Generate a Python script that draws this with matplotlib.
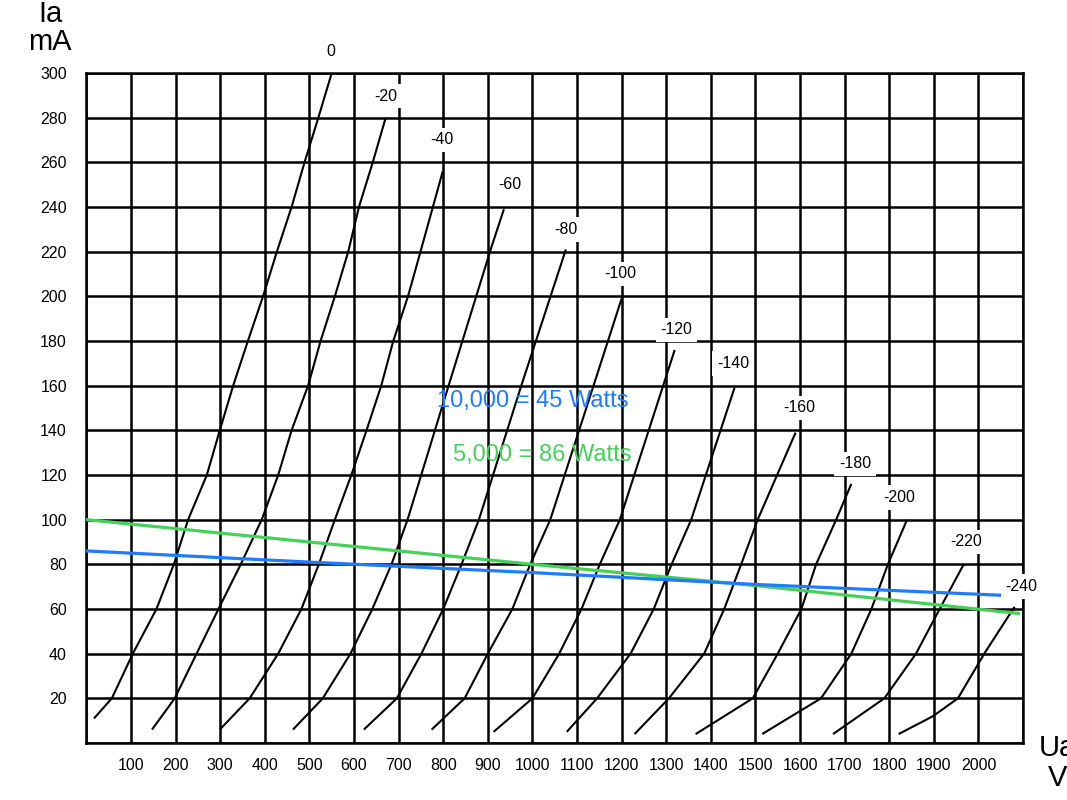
import numpy as np
import matplotlib
matplotlib.use("Agg")
import matplotlib.pyplot as plt

plt.rcParams['font.family'] = ['Liberation Sans', 'DejaVu Sans']

# grid-voltage curves: anode volts vs anode mA
curve_labels = ['0', '-20', '-40', '-60', '-80', '-100', '-120', '-140',
                '-160', '-180', '-200', '-220', '-240']

c0_v = [17, 57, 104, 157, 196, 228, 270, 299, 329, 362, 396, 427, 460, 489, 520, 550]
c0_i = [11, 20, 40, 60, 80, 100, 120, 140, 160, 180, 200, 220, 240, 260, 280, 300]
c20_v = [147, 198, 247, 296, 346, 393, 430, 460, 497, 525, 557, 587, 611, 642, 671]
c20_i = [6, 20, 40, 60, 80, 100, 120, 140, 160, 180, 200, 220, 240, 260, 280]
c40_v = [299, 366, 430, 482, 521, 557, 594, 628, 661, 688, 721, 749, 799]
c40_i = [6, 20, 40, 60, 80, 100, 120, 140, 160, 180, 200, 220, 256]
c60_v = [463, 530, 592, 641, 684, 720, 812, 908, 936]
c60_i = [6, 20, 40, 60, 80, 100, 160, 222, 239]
c80_v = [622, 696, 751, 800, 841, 880, 975, 1075]
c80_i = [6, 20, 40, 60, 80, 100, 160, 221]
c100_v = [774, 848, 900, 955, 995, 1040, 1200]
c100_i = [6, 20, 40, 60, 80, 100, 199]
c120_v = [913, 1000, 1060, 1110, 1151, 1196, 1319]
c120_i = [5, 20, 40, 60, 80, 100, 176]
c140_v = [1077, 1145, 1220, 1272, 1312, 1356, 1453]
c140_i = [5, 20, 40, 60, 80, 100, 159]
c160_v = [1229, 1306, 1385, 1430, 1468, 1505, 1590]
c160_i = [4, 20, 40, 60, 80, 100, 139]
c180_v = [1366, 1494, 1550, 1603, 1636, 1681, 1715]
c180_i = [4, 20, 40, 60, 80, 100, 116]
c200_v = [1515, 1647, 1715, 1760, 1797, 1840]
c200_i = [4, 20, 40, 60, 80, 100]
c220_v = [1674, 1789, 1860, 1913, 1967]
c220_i = [4, 20, 40, 60, 80]
c240_v = [1821, 1898, 1954, 2013, 2081]
c240_i = [4, 12, 20, 40, 61]

curves_v = [c0_v, c20_v, c40_v, c60_v, c80_v, c100_v, c120_v, c140_v,
            c160_v, c180_v, c200_v, c220_v, c240_v]
curves_i = [c0_i, c20_i, c40_i, c60_i, c80_i, c100_i, c120_i, c140_i,
            c160_i, c180_i, c200_i, c220_i, c240_i]

# label anchor points (V, mA)
label_v = [548, 671, 797, 949, 1075, 1198, 1323, 1450, 1598, 1724, 1823, 1973, 2097]
label_i = [309.5, 289.7, 270, 250, 230, 210, 185, 170, 150, 125, 110, 90, 70]

# load lines
green_v = [0, 500, 1000, 1500, 2090]
green_i = [100, 90, 80, 70.5, 58]
blue_v = [0, 500, 1000, 1500, 2090]
blue_i = [86, 81, 76.3, 71, 65.8]

x_ticks = list(range(0, 2101, 100))
y_ticks = list(range(0, 301, 20))

BLUE = '#1f7bff'
GREEN = '#46d05a'

fig = plt.figure(figsize=(10.67, 8), dpi=100)
ax = fig.add_axes([0.081, 0.07125, 0.8778, 0.8375])

for v, i in zip(curves_v, curves_i):
    ax.plot(v, i, color='black', lw=1.5, zorder=3, solid_capstyle='butt')

ax.plot(green_v, green_i, color=GREEN, lw=2.3, zorder=4)
ax.plot(blue_v, blue_i, color=BLUE, lw=2.3, zorder=4)

for lab, v, i in zip(curve_labels, label_v, label_i):
    ax.text(v, i, lab, ha='center', va='center', fontsize=11.5, zorder=6,
            clip_on=False,
            bbox=dict(facecolor='white', edgecolor='none', pad=3.5))

ax.text(1000, 153, '10,000 = 45 Watts', color=BLUE, fontsize=17,
        ha='center', va='center', zorder=5)
ax.text(1023, 129, '5,000 = 86 Watts', color=GREEN, fontsize=17,
        ha='center', va='center', zorder=5)

ax.set_xlim(0, 2100)
ax.set_ylim(0, 300)
ax.set_xticks(x_ticks)
ax.set_yticks(y_ticks)
ax.set_xticklabels(['' if t in (0, 2100) else str(t) for t in x_ticks])
ax.set_yticklabels(['' if t == 0 else str(t) for t in y_ticks])
ax.tick_params(axis='x', length=0, pad=11, labelsize=11.5)
ax.tick_params(axis='y', length=0, pad=14, labelsize=11.5)
ax.grid(True, color='black', lw=1.8, zorder=1)
ax.set_axisbelow(True)
for s in ax.spines.values():
    s.set_linewidth(1.8)

fig.text(0.047, 0.982, 'Ia', fontsize=21, ha='center', va='center')
fig.text(0.047, 0.947, 'mA', fontsize=21, ha='center', va='center')
fig.text(0.991, 0.065, 'Ua', fontsize=21, ha='center', va='center')
fig.text(0.991, 0.027, 'V', fontsize=21, ha='center', va='center')

fig.savefig('out.png', dpi=100)
plt.close(fig)
